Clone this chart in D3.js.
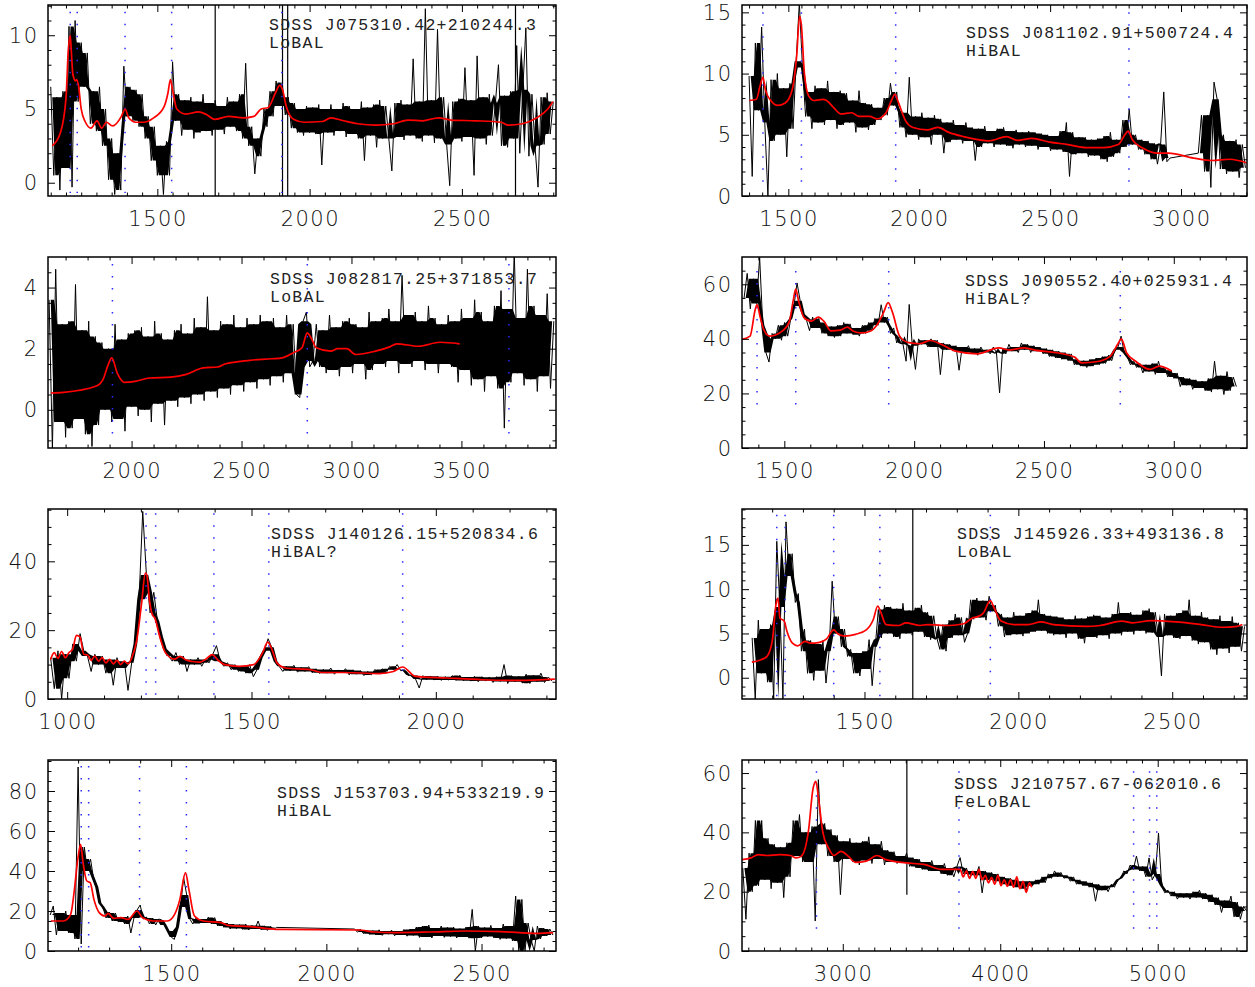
<!DOCTYPE html>
<html>
<head>
<meta charset="utf-8">
<script src="https://cdn.jsdelivr.net/npm/d3@7"></script>
<style>
  body { margin: 0; background: #fff; }
  svg { display: block; }
</style>
</head>
<body>
<div id="chart"></div>
<script>
// object names and BAL classes, in panel order
const names = ['SDSS J075310.42+210244.3', 'SDSS J081102.91+500724.4', 'SDSS J082817.25+371853.7',
  'SDSS J090552.40+025931.4', 'SDSS J140126.15+520834.6', 'SDSS J145926.33+493136.8',
  'SDSS J153703.94+533219.9', 'SDSS J210757.67-062010.6']
const classes = ['LoBAL', 'HiBAL', 'LoBAL', 'HiBAL?', 'HiBAL?', 'LoBAL', 'HiBAL', 'FeLoBAL']

// axis ranges
const xRanges = [[1141, 2809], [1323, 3252], [1620, 3930], [1337, 3282], [948, 2326], [1102, 2743], [1103, 2740], [2360, 5567]]
const yRanges = [[-0.9, 12.05], [0, 15.6], [-1.25, 5.0], [0, 70], [0, 55.2], [-2.4, 19.05], [0, 95.5], [0, 64.4]]
const xTickLabels = [[1500, 2000, 2500], [1500, 2000, 2500, 3000], [2000, 2500, 3000, 3500], [1500, 2000, 2500, 3000],
  [1000, 1500, 2000], [1500, 2000, 2500], [1500, 2000, 2500], [3000, 4000, 5000]]
const yTickLabels = [[0, 5, 10], [0, 5, 10, 15], [0, 2, 4], [0, 20, 40, 60], [0, 20, 40], [0, 5, 10, 15], [0, 20, 40, 60, 80], [0, 20, 40, 60]]
const xMinorStep = [50, 50, 100, 100, 100, 100, 100, 100]
const yMinorStep = [1, 1, 0.5, 5, 5, 1, 5, 5]

// spectra: first wavelength, pixel step, flux per pixel (null = no data)
const specStart = [1150, 1350, 1625, 1345, 955, 1135, 1110, 2365]
const specStep = [10, 12, 15, 12, 10, 10, 10, 20]

const flux1 = [
  6.5, 0.5, 5.8, -0.5, 6.2, 1.0, 10.6, -0.3, 11.0, 5.5,
  9.5, 6.5, 8.8, 4.0, 6.2, 3.5, 6.5, 2.5, 5.0, 0.2,
  3.0, -0.8, 2.0, -0.5, 7.9, 4.5, 6.5, 4.2, 6.3, 3.8,
  6.0, 3.0, 4.5, 1.5, 3.8, 0.5, 2.5, -0.8, 2.8, 0.5,
  8.2, 4.2, 6.0, 3.2, 5.6, 3.6, 5.8, 3.0, 5.5, 3.4,
  6.0, 3.5, 5.4, 3.2, 5.6, 3.6, 5.2, 3.3, 5.8, 3.8,
  5.5, 3.5, 6.0, 3.0, 8.1, 2.5, 3.8, 0.6, 3.0, 1.8,
  5.0, 3.8, 6.2, 4.5, 6.9, 5.2, 6.8, 4.6, 5.8, 3.7,
  5.4, 3.4, 5.0, 3.2, 5.2, 3.4, 5.1, 3.3, 5.3, 1.2,
  5.0, 3.4, 5.3, 3.2, 5.0, 3.5, 5.4, 3.1, 5.2, 3.3,
  5.0, 3.0, 5.5, 1.5, 5.1, 3.2, 5.3, 2.4, 5.6, 3.0,
  5.2, 3.0, 0.8, 5.4, 3.1, 5.6, 2.9, 5.3, 3.2, 8.4,
  3.0, 5.5, 2.8, 11.8, 3.2, 5.6, 2.7, 10.4, 3.0, 5.8,
  2.6, -0.2, 5.5, 3.0, 5.7, 2.8, 7.8, 3.1, 5.6, 0.5,
  8.6, 3.0, 5.8, 2.6, 6.0, 3.2, 5.4, 8.0, 2.5, 5.9,
  2.4, 6.2, 3.0, 9.3, 2.0, 6.3, 10.5, 1.8, 6.0, 2.5,
  -0.3, 5.8, 2.6, 6.1, 3.3, 5.5]

const flux2 = [
  9.8, 1.6, 12.5, 7.0, 13.8, 6.0, 0.0, 9.5, 4.5, 10.0,
  5.0, 8.8, 3.2, 9.2, 5.5, 11.0, 15.8, 10.5, 6.5, 8.5,
  5.5, 9.0, 6.0, 8.8, 5.8, 9.4, 6.2, 8.5, 5.5, 8.6,
  5.8, 8.4, 6.0, 7.8, 5.2, 8.6, 5.6, 7.6, 5.4, 7.5,
  5.8, 7.2, 6.2, 8.0, 6.6, 9.2, 7.4, 8.5, 5.6, 6.8,
  4.8, 9.7, 5.0, 6.5, 4.6, 6.8, 4.8, 6.4, 4.2, 6.6,
  5.0, 6.3, 3.5, 6.0, 4.4, 6.2, 4.6, 5.8, 4.3, 6.0,
  4.5, 5.6, 2.9, 5.5, 4.0, 5.7, 4.3, 5.3, 4.0, 5.5,
  4.2, 5.6, 4.1, 5.3, 3.9, 5.4, 4.2, 5.2, 4.0, 5.3,
  4.1, 5.2, 3.8, 5.1, 4.0, 5.0, 3.7, 4.9, 3.8, 5.3,
  3.6, 6.0, 1.6, 5.2, 3.4, 4.8, 3.5, 4.8, 3.2, 4.6,
  3.3, 4.7, 3.0, 4.9, 2.8, 5.2, 3.2, 4.6, 3.5, 6.2,
  4.0, 7.1, 4.2, 5.0, 3.8, 4.6, 3.4, 4.5, 3.0, 4.3,
  2.6, 4.2, 8.5, 2.8, 3.1, null, null, null, null, null,
  null, null, null, 3.5, 6.6, 2.0, 6.6, 0.7, 9.3, 7.9,
  2.2, 5.0, 1.8, 4.5, 2.0, 4.6, 1.5, 4.2, 2.3]

const flux3 = [
  3.6, -1.3, 4.6, -0.4, 2.8, -0.9, 2.9, -0.6, 4.1, -0.3,
  2.6, -0.8, 2.9, -1.2, 2.4, -0.5, 2.2, 0.0, 2.0, -0.4,
  2.8, -0.3, 2.3, -0.7, 2.5, 0.1, 2.6, -0.2, 2.7, 0.0,
  2.4, -0.4, 2.9, 0.2, 2.5, -0.5, 2.3, 0.3, 2.6, 0.1,
  2.8, 0.4, 2.5, 0.2, 3.0, 0.5, 2.7, 0.3, 3.7, 0.6,
  2.6, 0.4, 2.9, 0.7, 2.8, 0.5, 3.1, 0.8, 2.7, 0.6,
  3.0, 0.9, 2.8, 0.7, 3.1, 1.0, 2.9, 0.8, 3.0, 1.1,
  2.7, 0.9, 3.1, 1.2, 2.8, 0.5, 0.4, 2.9, 3.2, 1.4,
  1.6, 2.8, 1.4, 2.6, 1.2, 3.1, 1.3, 2.7, 1.1, 2.9,
  1.4, 3.0, 1.2, 2.8, 1.5, 2.7, 1.0, 3.2, 1.3, 2.9,
  1.5, 3.0, 1.4, 3.3, 1.6, 2.9, 1.2, 4.4, 1.5, 3.1,
  1.4, 3.2, 1.6, 2.9, 1.3, 3.4, 1.5, 3.0, 1.2, 2.8,
  1.5, 3.1, 1.4, 2.9, 0.9, 3.3, 1.3, 3.0, 0.8, 3.6,
  1.0, 3.2, 0.6, 2.9, 1.1, 3.4, 0.7, 3.9, -0.6, 3.3,
  0.9, 5.2, 1.2, 3.0, 0.8, 4.6, 1.0, 3.4, 0.6, 3.1,
  1.1, 3.8, 0.7, 2.9]

const flux4 = [
  55, 64, 51, 62, 53, 69.8, 45, 35, 31.5, 42,
  40, 45, 39.5, 46, 41, 47.5, 52, 60.5, 54, 49,
  47, 43, 48, 44, 47.5, 42, 46, 41, 44.5, 40.5,
  45, 41, 46, 42, 45.5, 41.5, 44, 41, 45, 42,
  46, 43, 47.5, 45, 52.5, 46, 48, 42, 44, 38.5,
  41, 38, 31.8, 52.6, 37.5, 28.8, 40, 38, 39.5, 37,
  40, 37, 39.5, 26.9, 38.5, 36, 38, 35.5, 37.5, 28.5,
  37, 35, 37.5, 34.5, 36.5, 34, 37, 35, 36, 34.5,
  37, 35, 20.2, 36.5, 34.5, 38, 35.5, 37, 35, 38.5,
  36, 38, 35, 37.5, 35.5, 37, 34.5, 36.5, 33.5, 36,
  33, 35.5, 32.5, 35, 32, 34.5, 30.5, 32.5, 30, 32,
  29.5, 32.5, 30, 33, 30.5, 33.5, 31, 34, 32, 36,
  37, 41, 35, 33.5, 30.5, 32, 29.5, 31, 27.5, 30.5,
  28, 31, 27, 31.8, 27.5, 29.5, 26, 28.5, 25.5, 27.5,
  22.5, 26, 23, 25.5, 21.5, 25, 22, 24.5, 21, 25.5,
  20.5, 31.8, 21.5, 26.5, 19.6, 28, 21, 26, 22.5]

const flux5 = [
  12, 3, 14, 0, 13, 6, 16, 11, 19, 14,
  12.5, 8, 13, 10, 12.5, 7.5, 11.5, 4, 12, 9,
  11, 2.5, 10.5, 16, 29, 54.5, 36, 25, 31, 22.5,
  18, 14.5, 12.5, 11, 13.5, 10, 12.5, 8, 11.5, 10,
  12, 9.5, 11.5, 10.5, 13, 15.5, 11, 9.5, 10.5, 8.5,
  10, 8, 9.5, 7.5, 10, 6.5, 8.5, 12, 14, 17.5,
  15, 11, 9.5, 8, 9.5, 8.2, 9.8, 7.8, 9.2, 8.0,
  9.4, 7.6, 8.8, 7.4, 8.6, 7.5, 9.0, 7.2, 8.4, 7.6,
  8.8, 7.0, 8.5, 7.2, 8.3, 6.8, 8.0, 7.0, 8.6, 7.3,
  8.8, 7.5, 9.5, 8.5, 10.0, 8.2, 8.5, 6.8, 7.0, 5.8,
  3.2, 6.8, 5.6, 6.7, 5.5, 6.6, 5.4, 6.5, 5.5, 6.8,
  5.4, 6.9, 5.3, 6.4, 5.2, 6.6, 5.0, 6.5, 5.3, 6.3,
  4.8, 6.5, 5.1, 10.0, 4.5, 6.8, 5.0, 6.6, 4.6, 7.2,
  4.5, 6.9, 5.0, 7.5, 4.8, 6.4, 5.2]

const flux6 = [
  4.5, -2.4, 6.5, 0.5, 5.5, -0.5, 6.0, -2.4, 15.4, 8.0,
  -2.4, 17.6, 11.5, 14.0, 8.5, 9.5, 3.0, 5.5, 0.5, 4.2,
  -0.3, 3.8, 0.8, 4.2, -0.6, 3.0, 10.9, 5.0, 6.9, 3.5,
  5.5, 2.4, 3.2, 0.5, 2.8, 0.2, 3.0, 1.0, 4.3, -0.9,
  3.5, 7.7, 4.5, 8.2, 5.0, 8.0, 4.6, 7.8, 4.4, 8.4,
  5.0, 7.6, 4.8, 7.9, 5.2, 8.2, 4.6, 7.4, 4.3, 7.0,
  4.5, 3.2, 6.0, 3.0, 6.5, 4.5, 7.2, 4.8, 6.8, 4.0,
  5.0, 8.8, 6.6, 9.0, 6.8, 8.7, 6.5, 9.2, 7.5, 8.2,
  5.8, 7.2, 4.6, 6.8, 4.8, 7.4, 4.9, 7.0, 4.7, 7.3,
  5.0, 7.6, 5.2, 8.8, 5.3, 7.2, 5.0, 7.0, 4.8, 6.9,
  4.9, 6.8, 4.5, 6.6, 5.0, 7.0, 4.4, 6.7, 3.9, 6.9,
  4.6, 7.1, 4.5, 7.0, 4.8, 6.8, 4.4, 7.2, 5.0, 8.5,
  4.8, 7.3, 5.2, 7.4, 4.9, 7.1, 5.3, 7.6, 5.0, 7.8,
  5.1, 7.4, 4.6, 0.2, 7.2, 4.8, 7.0, 4.5, 7.3, 4.4,
  7.6, 4.7, 8.8, 4.2, 7.0, 3.8, 7.4, 4.0, 6.8, 3.2,
  6.6, 2.6, 7.0, 3.3, 6.4, 2.8, 6.9, 3.5, 6.2, 3.0,
  5.8]

const flux7 = [
  18, 22.5, 8, 19, 10, 20, 9, 18, 6, 92,
  3.5, 52, 40, 46, 36, 32, 24, 22, 16.5, 19.5,
  15, 19, 14.5, 17, 13.5, 17.5, 9, 16.5, 20.5, 23,
  16, 17, 13.5, 16.5, 13, 16, 15.5, 13, 10, 7,
  5.8, 12, 22, 36.7, 28, 16, 13.5, 16.5, 13.8, 16,
  14, 17, 13.5, 16.7, 12.5, 15, 11.8, 14, 11, 13.5,
  11.2, 13.2, 10.8, 13.5, 10.5, 12.8, 11, 15, 10.6, 12.6,
  10.3, 12.4, 10.8, 11.8, null, null, null, null, null, null,
  null, null, null, null, null, null, null, null, null, null,
  null, null, null, null, null, null, null, null, 11.0, 9.5,
  10.8, 8.6, 10.5, 8.2, 10.2, 8.0, 10.6, 7.8, 10.0, 8.4,
  10.4, 7.6, 10.0, 8.0, 10.8, 7.4, 11.0, 7.8, 12.0, 6.8,
  12.5, 7.0, 13.0, 6.5, 11.5, 7.5, 12.5, 6.8, 11.8, 7.2,
  12.0, 6.5, 11.2, 7.0, 12.0, 6.4, 20.8, 0, 12.5, 6.5,
  11.8, 7.2, 12.8, 6.5, 11.5, 5.8, 13.5, 6.2, 12.5, 5.0,
  27.5, 0, 25.8, 0, 14, 5.5, 0, 12.5, 6.0, 11.5,
  7.5, 11.0, 8.0]

const flux8 = [
  28, 10.7, 33, 20, 44, 22, 44, 24, 38, 21,
  36, 23, 35, 18, 36.5, 25, 44, 32, 46, 30,
  40, 30, 42, 10.1, 57.8, 36, 43, 32, 41, 30,
  39, 19, 37, 31, 38, 30, 36.5, 29, 37, 30.5,
  38.5, 29.5, 36, 31, 37, 29, 34, 30, 33.5, 29.5,
  32, 30, 33, 28.5, 31.5, 28, 31, 27.5, 30, 27,
  30.5, 27, 29, 26, 29.5, 25.5, 28, 25, 28.5, 31.5,
  26, 28, 24.5, 27, 25.5, 28.5, 19.6, 27, 24, 26.5,
  23.5, 26, 22.5, 25, 22, 24.5, 21.5, 24, 21, 23.5,
  20.5, 23.5, 22, 24, 22.5, 25, 23, 26, 24.5, 27,
  25, 26.5, 24.5, 25.5, 23.5, 25, 22.5, 24, 22, 23.5,
  21.5, 23, 16.8, 22.5, 20.5, 22, 20, 22.5, 21.5, 24,
  24.5, 27, 26, 29, 27.5, 32, 27, 28.5, 25, 31.4,
  24, 26, 39.8, 22, 19.6, 20.5, 18.5, 20, 17.5, 19.5,
  18, 19.5, 17.5, 20, 18, 20.5, 17.5, 19.5, 16.5, 19,
  15.5, 18, 13, 17, 14.5, 18.5, 11.5, 16.5, 10.7, 15,
  13.5]

// single bad pixels drawn as vertical strokes: [wavelength, flux low, flux high]
const bad1 = [[1690, -5, 20], [1911, -5, 20], [1928, -5, 20], [2676, -5, 20]]
const bad6 = [[1657, -5, 25]]
const bad8 = [[3407, 19, 70]]

// model fits [wavelength, flux]
const model1 = [[1155,2.5],[1182,3.4],[1200,5.7],[1208,9.1],[1214,10.0],[1217,9.1],[1223,7.3],[1232,6.9],[1235,7.0],[1241,6.6],
  [1250,5.0],[1264,4.1],[1282,3.7],[1302,4.2],[1317,3.7],[1333,4.1],[1353,3.85],[1382,4.5],[1394,5.0],[1406,4.4],[1429,4.1],
  [1453,4.1],[1488,4.4],[1523,5.2],[1535,6.1],[1543,7.0],[1550,6.3],[1564,5.0],[1594,4.65],[1635,4.8],[1659,4.65],[1688,4.3],
  [1735,4.5],[1782,4.4],[1817,4.5],[1841,5.0],[1864,5.1],[1888,6.1],[1902,6.6],[1911,6.3],[1923,5.2],[1947,4.3],[1982,4.1],
  [2041,4.15],[2070,4.4],[2111,4.2],[2158,4.0],[2217,3.9],[2276,4.0],[2323,4.25],[2370,4.2],[2423,4.4],[2464,4.25],[2546,4.2],
  [2629,4.1],[2652,3.9],[2699,4.0],[2746,4.4],[2782,5.0],[2799,5.5]]
const model2 = [[1351,7.8],[1378,7.9],[1392,9.0],[1403,9.7],[1412,8.7],[1433,7.8],[1460,7.4],[1488,7.6],[1515,8.7],[1532,11.5],
  [1543,14.7],[1550,13.9],[1561,10.1],[1577,8.2],[1598,7.8],[1632,7.9],[1646,7.8],[1674,7.2],[1701,6.7],[1742,6.8],[1770,6.5],
  [1811,6.5],[1839,6.3],[1873,6.8],[1894,7.8],[1907,8.3],[1921,7.6],[1949,6.1],[1976,5.6],[2031,5.4],[2072,5.6],[2113,5.2],
  [2169,4.85],[2224,4.6],[2265,4.5],[2334,4.85],[2375,4.55],[2430,4.7],[2499,4.4],[2568,4.2],[2636,3.95],[2705,3.95],[2760,4.2],
  [2787,5.05],[2798,5.3],[2814,4.6],[2855,3.9],[2911,3.5],[2952,3.5],[3048,3.1],[3117,2.9],[3186,3.0],[3252,2.7]]
const model3 = [[1633,0.55],[1690,0.57],[1837,0.77],[1870,0.99],[1894,1.48],[1910,1.70],[1935,1.2],[1967,0.9],[2016,0.93],
  [2082,1.04],[2179,1.07],[2245,1.15],[2326,1.37],[2391,1.4],[2424,1.5],[2538,1.62],[2636,1.67],[2685,1.7],[2734,1.86],[2775,2.03],
  [2799,2.52],[2816,2.36],[2840,2.03],[2905,1.92],[2938,2.0],[2979,2.0],[3019,1.81],[3109,1.92],[3174,2.06],[3206,2.16],[3305,2.08],
  [3403,2.21],[3492,2.16]]
const model4 = [[1337,39.8],[1368,41],[1388,50.8],[1395,52.6],[1406,48.4],[1423,42.9],[1444,41],[1493,42.9],[1520,46.5],[1534,53.9],
  [1544,58.2],[1555,53.9],[1576,47.8],[1604,46.5],[1631,48],[1652,46.5],[1680,42.9],[1715,43.2],[1743,44.3],[1764,42.9],[1798,42.2],
  [1833,42.9],[1854,44.7],[1882,49.6],[1900,53.3],[1917,49.6],[1944,41],[1979,38.6],[2020,38.2],[2062,39.4],[2104,38],[2160,35.5],
  [2243,34.5],[2326,36.7],[2368,35.9],[2423,36.7],[2465,35.9],[2548,34.9],[2618,33.3],[2645,31.2],[2701,31.6],[2756,33.7],[2784,38],
  [2798,40],[2818,34.9],[2853,31.8],[2909,28.8],[2944,30],[2992,28.2]]
const model5 = [[955,11.5],[965,13.5],[975,11.8],[985,13.8],[995,12.0],[1005,13.5],[1015,14.5],[1025,18.5],[1035,18.0],[1045,13.0],
  [1055,12.8],[1065,11.2],[1075,12.5],[1085,11.0],[1095,12.0],[1105,10.5],[1115,11.5],[1125,10.2],[1135,11.2],[1145,10.0],[1155,11.0],
  [1165,10.2],[1175,11.9],[1189,17.2],[1202,27.9],[1212,36.6],[1216,36.1],[1223,28.9],[1231,24.5],[1238,23.5],[1251,18.2],[1267,13.4],
  [1291,11.6],[1306,12.4],[1321,11.4],[1340,10.9],[1360,10.7],[1374,11.4],[1394,12.9],[1408,11.4],[1428,10],[1467,9.5],[1506,10],
  [1530,13.4],[1544,16.5],[1554,14.8],[1569,10.5],[1593,9.0],[1661,8.5],[1690,7.7],[1749,7.7],[1846,7.4],[1885,8.0],[1910,9.3],
  [1944,6.6],[2031,6.1],[2128,5.6],[2225,5.4],[2323,5.8]]
const model6 = [[1134,1.76],[1166,2.06],[1184,2.44],[1201,4.3],[1213,8.4],[1219,9.0],[1225,6.75],[1239,6.4],[1248,5.25],[1266,3.9],
  [1283,3.6],[1307,4.1],[1324,3.9],[1354,4.0],[1377,4.4],[1400,5.4],[1412,5.0],[1435,4.7],[1471,4.9],[1506,5.4],[1529,6.6],[1543,8.1],
  [1552,7.5],[1570,6.0],[1611,5.9],[1634,6.2],[1681,5.9],[1705,6.0],[1775,5.9],[1822,6.1],[1851,6.75],[1868,6.9],[1886,7.3],[1909,8.7],
  [1921,7.9],[1944,6.4],[1985,6.0],[2032,6.0],[2073,6.3],[2114,6.0],[2219,5.8],[2266,5.9],[2336,6.4],[2371,6.2],[2430,6.45],[2512,6.3],
  [2594,6.0],[2664,5.7],[2711,5.8],[2728,6.0]]
const model7 = [[1112,15],[1153,15],[1176,18.3],[1187,29.2],[1199,45.8],[1208,53.3],[1216,44.2],[1228,35],[1239,34.2],[1251,25.8],
  [1268,19.2],[1286,17.5],[1297,18.8],[1315,16.3],[1338,16.7],[1361,15.8],[1390,20],[1407,16.7],[1442,15],[1488,15],[1511,18.3],
  [1528,25.8],[1546,39.2],[1557,30.8],[1575,17.5],[1604,15],[1661,14.2],[1684,12.8],[1754,12.2],[1846,10.8],[2101,10.5],[2158,9.5],
  [2216,9.2],[2332,9.5],[2447,10],[2563,9.7],[2679,8.8],[2731,9.2]]
const model8 = [[2360,30.8],[2417,31.4],[2463,32.5],[2520,32.2],[2600,32.5],[2669,32.2],[2703,31.4],[2737,32],[2783,40.9],[2810,54.4],
  [2829,57.2],[2847,51],[2874,39.8],[2909,34.8],[2943,32.2],[2989,33.6],[3034,32],[3080,29.9],[3149,30.3],[3217,32.2],[3274,30.8],
  [3400,29.7],[3514,29.2],[3629,27.5],[3745,27.5],[3765,25],[3785,27],[3805,24.5],[3825,26.8],[3845,24.5],[3865,27.5],[3885,24],
  [3905,25.5],[3925,23],[3945,24.8],[3965,22.5],[3985,25.5],[4005,22],[4025,24],[4045,21.8],[4065,24],[4085,21.5],[4105,25],
  [4125,21],[4145,23.5],[4165,19.8],[4185,23],[4200,21.5]]

// emission line markers and the flux span of each marker
const lineWaves = [[1214, 1237, 1394, 1547, 1909], [1403, 1550, 1910, 2801], [1913, 2799, 3716], [1395, 1544, 1902, 2794],
  [1214, 1240, 1398, 1547, 1910], [1215, 1242, 1400, 1550, 1909], [1210, 1234, 1398, 1549], [2833, 3738, 4847, 4948, 4994]]
const lineSpans = [[-0.7, 11.6], [0.3, 15], [-0.82, 4.77], [15.9, 64.9], [0, 54], [-2.4, 18.4], [0, 92.5], [7.3, 60.6]]

const fluxes = [flux1, flux2, flux3, flux4, flux5, flux6, flux7, flux8]
const models = [model1, model2, model3, model4, model5, model6, model7, model8]
const bads = [bad1, [], [], [], [], bad6, [], bad8]

// layout
const cols = [[48, 556], [742, 1247]]
const rows = [[5, 196], [257, 448], [509, 699], [760, 951]]
const labelPos = [[221, 25], [224, 33], [222, 27], [223, 29], [223, 30], [215, 30], [229, 38], [212, 29]]

const svg = d3.select('#chart').append('svg')
  .attr('width', 1255)
  .attr('height', 987)

// solid core of the noisy trace: inner envelope of each pixel pair and its neighbours
function coreBand(pix) {
  const out = []
  for (let k = 0; k < pix.length - 1; k++) {
    const a = pix[k]
    const b = pix[k + 1]
    if (a.f === null || b.f === null) { out.push(null); continue }
    const win = [pix[k - 1], a, b, pix[k + 2]]
      .filter(p => p && p.f !== null)
      .map(p => p.f)
      .sort((m, n) => m - n)
    const hi = win.length > 2 ? win[win.length - 2] : win[win.length - 1]
    const lo = win.length > 2 ? win[1] : win[0]
    out.push({ w: (a.w + b.w) / 2, lo, hi })
  }
  return out
}

names.forEach((name, i) => {
  const [x0, x1] = cols[i % 2]
  const [y0, y1] = rows[Math.floor(i / 2)]
  const x = d3.scaleLinear().domain(xRanges[i]).range([x0, x1])
  const y = d3.scaleLinear().domain(yRanges[i]).range([y1, y0])

  const g = svg.append('g')
  const clipId = 'clip' + i
  g.append('clipPath').attr('id', clipId)
    .append('rect').attr('x', x0).attr('y', y0).attr('width', x1 - x0).attr('height', y1 - y0)
  const plot = g.append('g').attr('clip-path', 'url(#' + clipId + ')')

  const pix = fluxes[i].map((f, k) => ({ w: specStart[i] + k * specStep[i], f }))

  plot.append('path')
    .datum(coreBand(pix))
    .attr('d', d3.area()
      .defined(d => d !== null)
      .x(d => x(d.w))
      .y0(d => y(d.lo))
      .y1(d => y(d.hi)))
    .attr('fill', '#000')

  // observed spectrum, gaps bridged by a straight segment
  plot.append('path')
    .datum(pix.filter(d => d.f !== null))
    .attr('d', d3.line().x(d => x(d.w)).y(d => y(d.f)))
    .attr('fill', 'none')
    .attr('stroke', '#000')
    .attr('stroke-width', 1)

  plot.selectAll('.bad')
    .data(bads[i])
    .enter()
    .append('line')
    .attr('x1', d => x(d[0])).attr('x2', d => x(d[0]))
    .attr('y1', d => y(d[1])).attr('y2', d => y(d[2]))
    .attr('stroke', '#000')
    .attr('stroke-width', 1.2)

  plot.selectAll('.lines')
    .data(lineWaves[i])
    .enter()
    .append('line')
    .attr('x1', d => x(d)).attr('x2', d => x(d))
    .attr('y1', y(lineSpans[i][1])).attr('y2', y(lineSpans[i][0]))
    .attr('stroke', '#2b2bff')
    .attr('stroke-width', 1.5)
    .attr('stroke-dasharray', '1.5 10.5')

  plot.append('path')
    .datum(models[i])
    .attr('d', d3.line().curve(d3.curveMonotoneX).x(d => x(d[0])).y(d => y(d[1])))
    .attr('fill', 'none')
    .attr('stroke', '#ff0000')
    .attr('stroke-width', 1.7)

  // frame and ticks on all four sides
  const xs = xMinorStep[i]
  const ys = yMinorStep[i]
  const xMinor = d3.range(Math.ceil(xRanges[i][0] / xs) * xs, xRanges[i][1], xs)
  const yMinor = d3.range(Math.ceil(yRanges[i][0] / ys) * ys, yRanges[i][1], ys)
  const axes = [
    [d3.axisBottom(x), 0, y1], [d3.axisTop(x), 0, y0],
    [d3.axisLeft(y), x0, 0], [d3.axisRight(y), x1, 0]
  ]
  axes.forEach(([ax, tx, ty], k) => {
    const isX = k < 2
    const major = isX ? xTickLabels[i] : yTickLabels[i]
    const minor = (isX ? xMinor : yMinor).filter(v => !major.some(m => Math.abs(m - v) < 1e-6))
    g.append('g').attr('transform', 'translate(' + tx + ',' + ty + ')')
      .call(ax.tickValues(major).tickSize(-7).tickFormat(() => ''))
      .call(s => s.select('.domain').remove())
      .selectAll('line').attr('stroke', '#000')
    g.append('g').attr('transform', 'translate(' + tx + ',' + ty + ')')
      .call(ax.tickValues(minor).tickSize(-3.5).tickFormat(() => ''))
      .call(s => s.select('.domain').remove())
      .selectAll('line').attr('stroke', '#000')
  })

  g.append('rect')
    .attr('x', x0).attr('y', y0)
    .attr('width', x1 - x0).attr('height', y1 - y0)
    .attr('fill', 'none')
    .attr('stroke', '#000')
    .attr('stroke-width', 1.5)

  g.selectAll('.xlab')
    .data(xTickLabels[i])
    .enter()
    .append('text')
    .attr('x', d => x(d) + 0.75)
    .attr('y', y1 + 30)
    .attr('text-anchor', 'middle')
    .attr('font-family', 'DejaVu Sans')
    .attr('font-size', 21)
    .attr('font-weight', 200)
    .attr('letter-spacing', 1.5)
    .attr('fill', '#111')
    .text(d => d)

  g.selectAll('.ylab')
    .data(yTickLabels[i])
    .enter()
    .append('text')
    .attr('x', x0 - 9.5)
    .attr('y', d => y(d) + 7.5)
    .attr('text-anchor', 'end')
    .attr('font-family', 'DejaVu Sans')
    .attr('font-size', 21)
    .attr('font-weight', 200)
    .attr('letter-spacing', 1.5)
    .attr('fill', '#111')
    .text(d => d)

  const t = g.append('text')
    .attr('x', x0 + labelPos[i][0])
    .attr('y', y0 + labelPos[i][1])
    .attr('font-family', 'Liberation Mono')
    .attr('font-size', 16.5)
    .attr('letter-spacing', 1.27)
    .attr('fill', '#222')
  t.append('tspan').attr('x', x0 + labelPos[i][0]).text(name)
  t.append('tspan').attr('x', x0 + labelPos[i][0]).attr('dy', 18).text(classes[i])
})
</script>
</body>
</html>
